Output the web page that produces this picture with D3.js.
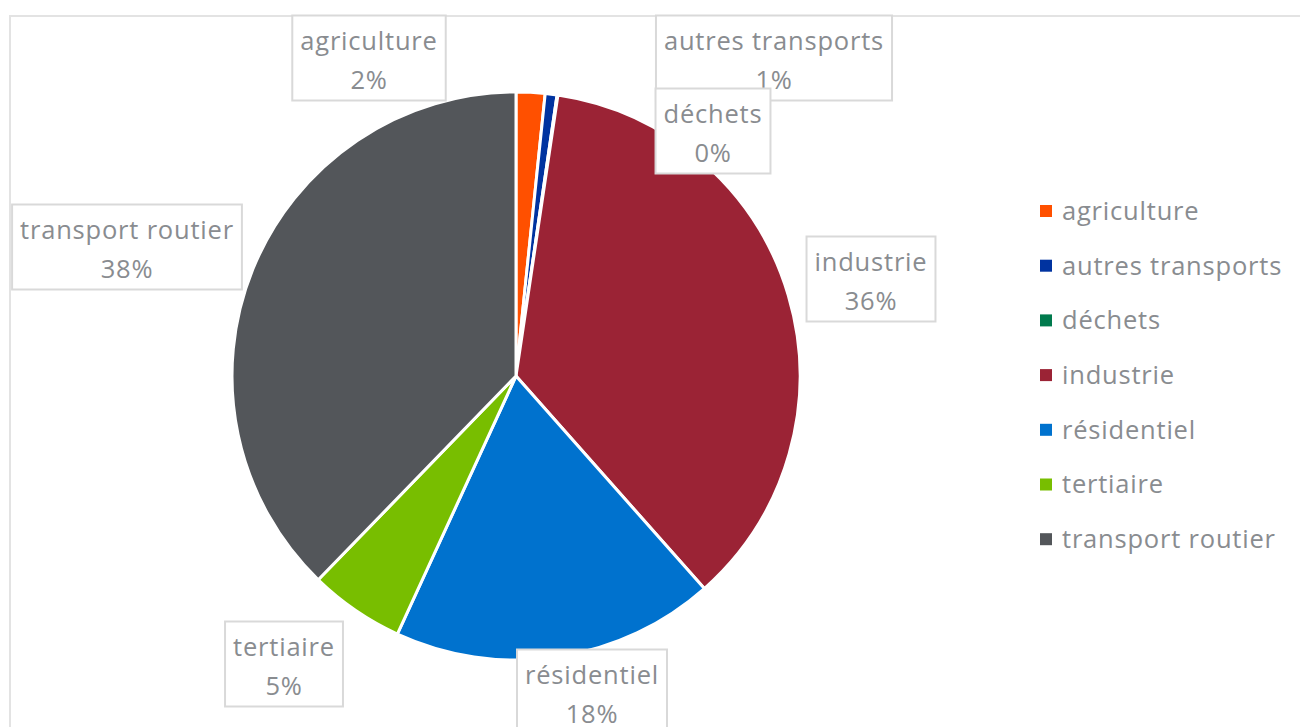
<!DOCTYPE html>
<html>
<head>
<meta charset="utf-8">
<script src="https://cdn.jsdelivr.net/npm/d3@7"></script>
<style>
  html, body { margin: 0; padding: 0; background: #fff; }
  svg { display: block; }
  text { font-family: "Open Sans", Lato, sans-serif; fill: #898c90; font-variant-ligatures: none; letter-spacing: 0.8px; }
</style>
</head>
<body>
<div id="chart"></div>
<script>
// sectors, shares in %
const sectors = ["agriculture", "autres transports", "déchets", "industrie", "résidentiel", "tertiaire", "transport routier"];
const shares = [1.64, 0.67, 0.05, 36.1, 18.4, 5.4, 37.74];
const shareLabels = ["2%", "1%", "0%", "36%", "18%", "5%", "38%"];
const colors = ["#ff5000", "#0033a0", "#007a4d", "#9b2335", "#0072ce", "#78be00", "#53565a"];

// layout only: where Excel put each label box (centre)
const labelCentres = [[369, 58], [774, 58], [713, 131], [871, 279], [592, 692], [284, 664], [127, 247]];

const width = 1300, height = 727;
const cx = 516, cy = 376, radius = 284;
const fontSize = 25.5;

const svg = d3.select("#chart")
  .append("svg")
  .attr("width", width)
  .attr("height", height);

// chart frame, cut off at right and bottom like the screenshot
svg.append("rect")
  .attr("x", 10).attr("y", 16)
  .attr("width", 1400).attr("height", 800)
  .attr("fill", "none")
  .attr("stroke", "#e3e3e3")
  .attr("stroke-width", 2);

const data = sectors.map((s, i) => ({name: s, value: shares[i], label: shareLabels[i], color: colors[i]}));

const pie = d3.pie().sort(null).value(d => d.value);
const arc = d3.arc().innerRadius(0).outerRadius(radius);

const g = svg.append("g")
  .attr("transform", "translate(" + cx + "," + cy + ")");

g.selectAll("path")
  .data(pie(data))
  .join("path")
  .attr("d", arc)
  .attr("fill", d => d.data.color)
  .attr("stroke", "#fff")
  .attr("stroke-width", 3)
  .attr("stroke-linejoin", "round");

// data labels in boxes
const labels = svg.append("g");
data.forEach((d, i) => {
  const [x, y] = labelCentres[i];
  const lg = labels.append("g").attr("transform", "translate(" + x + "," + y + ")");
  const box = lg.append("rect");
  const t1 = lg.append("text")
    .attr("text-anchor", "middle")
    .attr("y", -17)
    .attr("dy", "0.35em")
    .style("font-size", fontSize + "px")
    .text(d.name);
  const t2 = lg.append("text")
    .attr("text-anchor", "middle")
    .attr("y", 22)
    .attr("dy", "0.35em")
    .style("font-size", fontSize + "px")
    .text(d.label);
  const w = Math.max(t1.node().getComputedTextLength(), t2.node().getComputedTextLength()) + 16;
  const h = 85;
  box.attr("x", -w / 2).attr("y", -h / 2)
    .attr("width", w).attr("height", h)
    .attr("fill", "#fff")
    .attr("stroke", "#d9d9d9")
    .attr("stroke-width", 2);
});

// legend
const legend = svg.append("g").attr("transform", "translate(1040,211)");
const rowStep = 54.7;
const items = legend.selectAll("g")
  .data(data)
  .join("g")
  .attr("transform", (d, i) => "translate(0," + (i * rowStep) + ")");

items.append("rect")
  .attr("x", 0).attr("y", -6)
  .attr("width", 12).attr("height", 12)
  .attr("fill", d => d.color);

items.append("text")
  .attr("x", 22)
  .attr("dy", "0.35em")
  .style("font-size", fontSize + "px")
  .text(d => d.name);
</script>
</body>
</html>
